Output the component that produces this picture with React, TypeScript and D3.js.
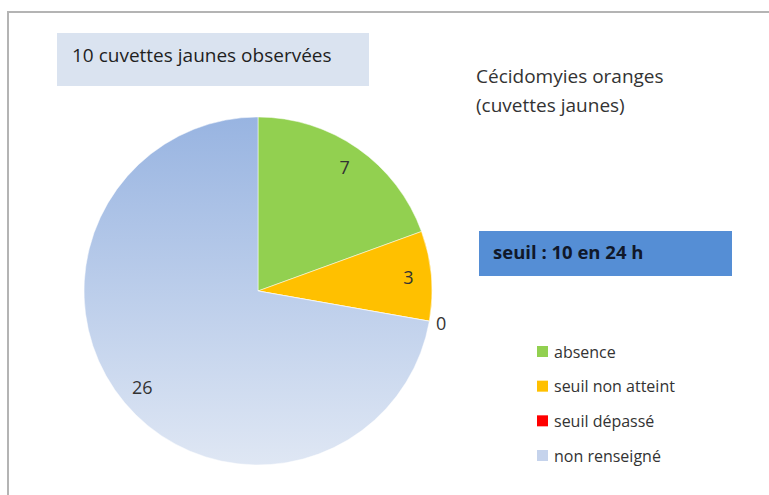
// Pie chart - cécidomyies oranges observed in yellow traps (cuvettes jaunes)
import React from 'react';
import * as d3 from 'd3';

const categories = ['absence', 'seuil non atteint', 'seuil dépassé', 'non renseigné'];
const counts = [7, 3, 0, 26];
const colors = ['#92D050', '#FFC000', '#FF0000', 'url(#blueFade)'];
const legendColors = ['#92D050', '#FFC000', '#FF0000', '#C5D3EC'];

const boxTitle = '10 cuvettes jaunes observées';
const titleLines = ['Cécidomyies oranges', '(cuvettes jaunes)'];
const thresholdText = 'seuil : 10 en 24 h';

const font = '"Open Sans", "Noto Sans", sans-serif';

const App = () => {
  const width = 769, height = 495;
  const cx = 258, cy = 291, radius = 174;

  // slices start at 12 o'clock and go clockwise, keep the data order
  const pie = d3.pie<number>().sort(null).value(d => d);
  const arcs = pie(counts);
  const arc = d3.arc<d3.PieArcDatum<number>>().innerRadius(0).outerRadius(radius);
  // labels sit near the rim, zero slices are pushed just outside
  const labelArc = d3.arc<d3.PieArcDatum<number>>().innerRadius(151).outerRadius(151);
  const outsideArc = d3.arc<d3.PieArcDatum<number>>().innerRadius(186).outerRadius(186);

  // legend rows
  const legendY = d3.scalePoint<string>().domain(categories).range([352, 456]);

  return (
    <svg width={width} height={height} style={{ position: 'absolute', left: 0, top: 0, fontFamily: font }}>
      <defs>
        {/* vertical fade of the 'non renseigné' slice, in the pie group's own coordinates */}
        <linearGradient id="blueFade" gradientUnits="userSpaceOnUse" x1="0" y1={-radius} x2="0" y2={radius}>
          <stop offset="0%" stopColor="#98B4E1" />
          <stop offset="100%" stopColor="#DFE7F4" />
        </linearGradient>
      </defs>
      <rect x={0} y={0} width={width} height={height} fill="#fff" />
      {/* chart frame, cut by the picture's right and bottom edges */}
      <path d={`M8,${height + 2} V12 H${width + 2}`} fill="none" stroke="#B4B4B4" strokeWidth={2} />

      {/* title box */}
      <rect x={57} y={33} width={312} height={53} fill="#DAE3F0" />
      <text x={72} y={62} fontSize={19} fill="#1F1F1F">{boxTitle}</text>

      {titleLines.map((t, i) => (
        <text key={t} x={476} y={83 + i * 29} fontSize={19} fill="#333">{t}</text>
      ))}

      {/* threshold box */}
      <rect x={479} y={231} width={253} height={45} fill="#558ED5" />
      <text x={493} y={259} fontSize={18.5} fontWeight="bold" fill="#10182A">{thresholdText}</text>

      {/* slices */}
      <g transform={`translate(${cx},${cy})`}>
        {arcs.map((a, i) => (
          <path key={categories[i]} d={arc(a) || ''} fill={colors[i]} stroke="#fff" strokeWidth={0.5} />
        ))}
        {arcs.map((a, i) => {
          const [x, y] = a.data === 0 ? outsideArc.centroid(a) : labelArc.centroid(a);
          return (
            <text key={`${categories[i]}-label`} x={x} y={y} dy="0.35em" textAnchor="middle" fontSize={18} fill="#333">
              {a.data}
            </text>
          );
        })}
      </g>

      {/* legend */}
      {categories.map((c, i) => (
        <g key={`${c}-legend`} transform={`translate(537,${legendY(c)})`}>
          <rect x={0} y={-6} width={11} height={11} fill={legendColors[i]} />
          <text x={17} y={0} dy="0.35em" fontSize={16} fill="#333">{c}</text>
        </g>
      ))}
    </svg>
  );
};

export default App;
